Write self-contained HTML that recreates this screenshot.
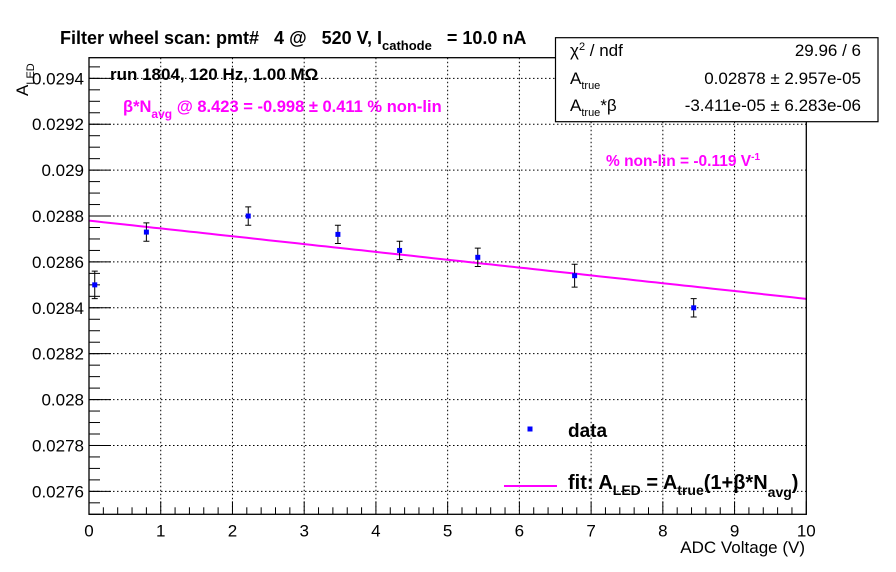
<!DOCTYPE html>
<html><head><meta charset="utf-8"><style>
body{margin:0;background:#fff}
svg{font-family:"Liberation Sans",sans-serif;display:block}
text{white-space:pre}
</style></head><body>
<svg id="chart" width="896" height="572" xmlns="http://www.w3.org/2000/svg" xml:space="preserve">
<rect width="896" height="572" fill="#fff"/>
<g id="grid"></g>
<g id="axes"></g>
<g id="fit"></g>
<g id="pts"></g>
<rect x="89" y="57.7" width="717.3" height="456.6" fill="none" stroke="#000" stroke-width="1.3"/>
<text x="60" y="44" font-size="18" font-weight="bold">Filter wheel scan: pmt#   4 @   520 V, I<tspan dy="6" font-size="13">cathode</tspan><tspan dy="-6">   = 10.0 nA</tspan></text>
<text transform="translate(28,96) rotate(-90)" font-size="17">A<tspan dy="6" font-size="11">LED</tspan></text>
<text x="805" y="553" font-size="17" text-anchor="end">ADC Voltage (V)</text>
<text x="110" y="80" font-size="17" font-weight="bold">run 1804, 120 Hz, 1.00 MΩ</text>
<text x="123" y="112" font-size="16.5" font-weight="bold" fill="#f0f">β*N<tspan dy="6" font-size="12">avg</tspan><tspan dy="-6"> @ 8.423 = -0.998 ± 0.411 % non-lin</tspan></text>
<text x="606" y="166" font-size="15.5" font-weight="bold" fill="#f0f">% non-lin = -0.119 V<tspan dy="-6" font-size="10">-1</tspan></text>
<g>
<rect x="555.5" y="37.7" width="322.5" height="84" fill="#fff" stroke="#000" stroke-width="1.2"/>
<text x="570" y="56" font-size="17">χ<tspan dy="-6" font-size="11">2</tspan><tspan dy="6"> / ndf</tspan></text>
<text x="861" y="56" font-size="17" text-anchor="end">29.96 / 6</text>
<text x="570" y="84" font-size="17">A<tspan dy="5" font-size="11">true</tspan></text>
<text x="861" y="84" font-size="17" text-anchor="end">0.02878 ± 2.957e-05</text>
<text x="570" y="111" font-size="17">A<tspan dy="5" font-size="11">true</tspan><tspan dy="-5">*β</tspan></text>
<text x="861" y="111" font-size="17" text-anchor="end">-3.411e-05 ± 6.283e-06</text>
</g>
<g>
<rect x="527.5" y="426.5" width="5" height="5" fill="#00f"/>
<text x="568" y="437" font-size="19" font-weight="bold">data</text>
<line x1="504" y1="486" x2="557" y2="486" stroke="#f0f" stroke-width="2"/>
<text x="568" y="489" font-size="20" font-weight="bold">fit: A<tspan dy="6" font-size="14">LED</tspan><tspan dy="-6"> = A</tspan><tspan dy="6" font-size="14">true</tspan><tspan dy="-6">(1+β*N</tspan><tspan dy="8" font-size="14">avg</tspan><tspan dy="-8">)</tspan></text>
</g>
</svg>
<script>
const xVals=[0.08,0.8,2.22,3.47,4.33,5.42,6.77,8.43];
const yVals=[0.02850,0.02873,0.02880,0.02872,0.02865,0.02862,0.02854,0.02840];
const yErrs=[0.00006,0.00004,0.00004,0.00004,0.00004,0.00004,0.00005,0.00004];
const fitA=0.02878;
const fitAbeta=-3.411e-5;
const xTicks=[0,1,2,3,4,5,6,7,8,9,10];
const yTicks=[0.0276,0.0278,0.028,0.0282,0.0284,0.0286,0.0288,0.029,0.0292,0.0294];
const yTickLabels=["0.0276","0.0278","0.028","0.0282","0.0284","0.0286","0.0288","0.029","0.0292","0.0294"];
const X0=89,X1=806.3,Y0=514.3,Y1=57.7,xmin=0,xmax=10,ymin=0.0275,ymax=0.02949;
const sx=v=>X0+(v-xmin)/(xmax-xmin)*(X1-X0);
const sy=v=>Y0-(v-ymin)/(ymax-ymin)*(Y0-Y1);
const NS="http://www.w3.org/2000/svg";
function mk(tag,attrs,parent){const e=document.createElementNS(NS,tag);for(const k in attrs)e.setAttribute(k,attrs[k]);parent.appendChild(e);return e;}
const grid=document.getElementById('grid'),axes=document.getElementById('axes'),pts=document.getElementById('pts'),fit=document.getElementById('fit');
xTicks.forEach(t=>{const x=sx(t);
 if(t>0&&t<10){const g=mk('line',{x1:x,x2:x,y1:Y1,y2:Y0,stroke:'#000','stroke-dasharray':'1.5,2.5','stroke-width':1},grid);
 }
 const tk=mk('line',{x1:x,x2:x,y1:Y0,y2:Y0-13,stroke:'#000'},axes);
 
 const lb=mk('text',{x:x,y:Y0+22,'font-size':17,'text-anchor':'middle'},axes);lb.textContent=t;
 
 if(t<10)for(let j=1;j<5;j++){const xm=sx(t+j*0.2);const m=mk('line',{x1:xm,x2:xm,y1:Y0,y2:Y0-7,stroke:'#000'},axes);
 }
});
yTicks.forEach((t,i)=>{const y=sy(t);
 const g=mk('line',{x1:X0,x2:X1,y1:y,y2:y,stroke:'#000','stroke-dasharray':'1.5,2.5','stroke-width':1},grid);
 
 const tk=mk('line',{x1:X0,x2:X0+22,y1:y,y2:y,stroke:'#000'},axes);
 
 const lb=mk('text',{x:X0-5,y:y+6,'font-size':17,'text-anchor':'end'},axes);lb.textContent=yTickLabels[i];
 
});
for(let v=ymin;v<=ymax+1e-9;v+=0.00005){const y=sy(v);if(y<Y1||y>Y0)continue;
 const m=mk('line',{x1:X0,x2:X0+11,y1:y,y2:y,stroke:'#000'},axes);
 }
let d='';for(let i=0;i<=100;i++){const x=xmin+i*(xmax-xmin)/100;d+=(i?'L':'M')+sx(x).toFixed(1)+','+sy(fitA+fitAbeta*x).toFixed(1);}
const fp=mk('path',{d:d,fill:'none',stroke:'#f0f','stroke-width':2},fit);

xVals.forEach((xv,i)=>{const x=sx(xv),y=sy(yVals[i]),yt=sy(yVals[i]+yErrs[i]),yb=sy(yVals[i]-yErrs[i]);
 const e=mk('path',{d:`M${x},${yt}V${yb}M${x-3},${yt}H${x+3}M${x-3},${yb}H${x+3}`,stroke:'#000',fill:'none','stroke-width':1},pts);
 
 const r=mk('rect',{x:x-2.5,y:y-2.5,width:5,height:5,fill:'#00f'},pts);
 
});
</script>
</body></html>
